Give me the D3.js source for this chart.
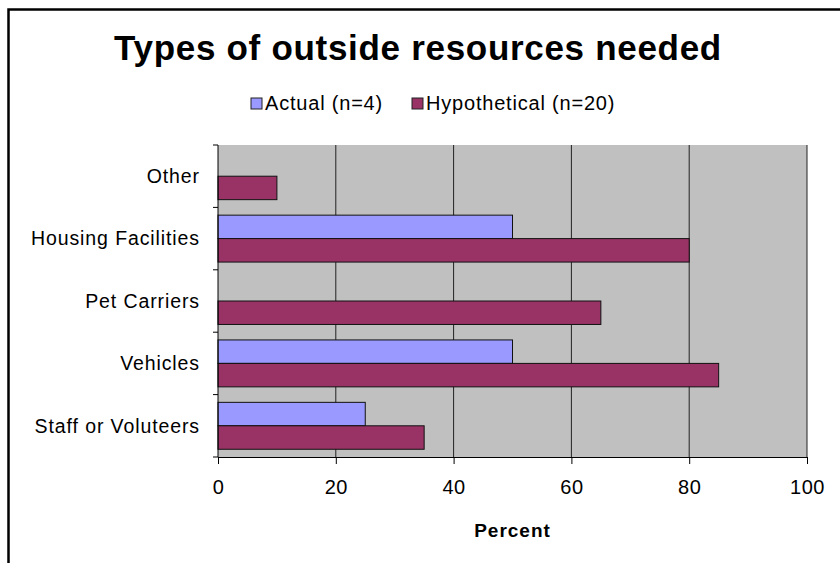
<!DOCTYPE html>
<html><head><meta charset="utf-8">
<script src="https://cdn.jsdelivr.net/npm/d3@7"></script>
<style>body{margin:0;background:#fff}svg{display:block;font-family:"Liberation Sans",Arial,sans-serif}</style>
</head><body><svg id="c" width="840" height="563"></svg>
<script>
const categories = ["Other","Housing Facilities","Pet Carriers","Vehicles","Staff or Voluteers"];
const actual = [null, 50, null, 50, 25];
const hypothetical = [10, 80, 65, 85, 35];
const seriesNames = ["Actual (n=4)","Hypothetical (n=20)"];
const seriesColors = ["#9999FF","#993366"];
const xTicks = [0,20,40,60,80,100];

const svg = d3.select("#c");
const m = {left:218, right:807, top:145, bottom:457};
svg.append("rect").attr("x",8.5).attr("y",9.5).attr("width",900).attr("height",700)
  .attr("fill","#fff").attr("stroke","#000").attr("stroke-width",2.5);

const x = d3.scaleLinear().domain([0,100]).range([m.left,m.right]);
const y = d3.scaleBand().domain(categories).range([m.top,m.bottom]);
const inner = d3.scaleBand().domain([0,1]).range([0,y.bandwidth()]).paddingInner(0).paddingOuter(0.33);

svg.append("rect").attr("x",m.left).attr("y",m.top).attr("width",m.right-m.left).attr("height",m.bottom-m.top).attr("fill","#C0C0C0");
svg.append("g").selectAll("line").data(xTicks.slice(1)).join("line")
  .attr("x1",d=>x(d)).attr("x2",d=>x(d)).attr("y1",m.top).attr("y2",m.bottom)
  .attr("stroke","#222").attr("stroke-width",1);

const series = [actual, hypothetical];
series.forEach((vals,si)=>{
  svg.append("g").selectAll("rect").data(categories.map((c,i)=>({c,v:vals[i]})).filter(d=>d.v!=null)).join("rect")
    .attr("x",x(0)).attr("y",d=>y(d.c)+inner(si)).attr("width",d=>x(d.v)-x(0)).attr("height",inner.bandwidth())
    .attr("fill",seriesColors[si]).attr("stroke","#111").attr("stroke-width",1);
});

const ya = svg.append("g").attr("transform",`translate(${m.left},0)`);
ya.append("line").attr("x1",0).attr("x2",0).attr("y1",m.top).attr("y2",m.bottom).attr("stroke","#000");
const yEdges = categories.map(c=>y(c)).concat([m.bottom]);
ya.selectAll("line.t").data(yEdges).join("line").attr("class","t")
  .attr("x1",-5).attr("x2",0).attr("y1",d=>d).attr("y2",d=>d).attr("stroke","#000");
ya.selectAll("text").data(categories).join("text")
  .attr("x",-18).attr("y",d=>y(d)+y.bandwidth()/2).attr("dy","0.35em").attr("text-anchor","end")
  .attr("font-size",19.5).attr("letter-spacing",0.9).text(d=>d);

const xa = svg.append("g").attr("transform",`translate(0,${m.bottom})`)
  .call(d3.axisBottom(x).tickValues(xTicks).tickSize(7).tickPadding(16));
xa.select(".domain").attr("stroke","#000");
xa.selectAll("text").attr("font-size",20).attr("letter-spacing",0.5).attr("font-family","Liberation Sans, Arial, sans-serif").attr("fill","#000");
xa.selectAll("line").attr("stroke","#000");

svg.append("text").attr("x",(m.left+m.right)/2).attr("y",537).attr("text-anchor","middle")
  .attr("font-size",19).attr("letter-spacing",1).attr("font-weight","bold").text("Percent");

svg.append("text").attr("x",418).attr("y",60).attr("text-anchor","middle")
  .attr("font-size",35).attr("letter-spacing",0.7).attr("font-weight","bold").text("Types of outside resources needed");

const leg = [{x:251},{x:412}];
leg.forEach((l,i)=>{
  svg.append("rect").attr("x",l.x).attr("y",98).attr("width",11).attr("height",11)
    .attr("fill",seriesColors[i]).attr("stroke","#222").attr("stroke-width",1);
  svg.append("text").attr("x",l.x+14).attr("y",110).attr("font-size",20).attr("letter-spacing",0.8).text(seriesNames[i]);
});
</script></body></html>
